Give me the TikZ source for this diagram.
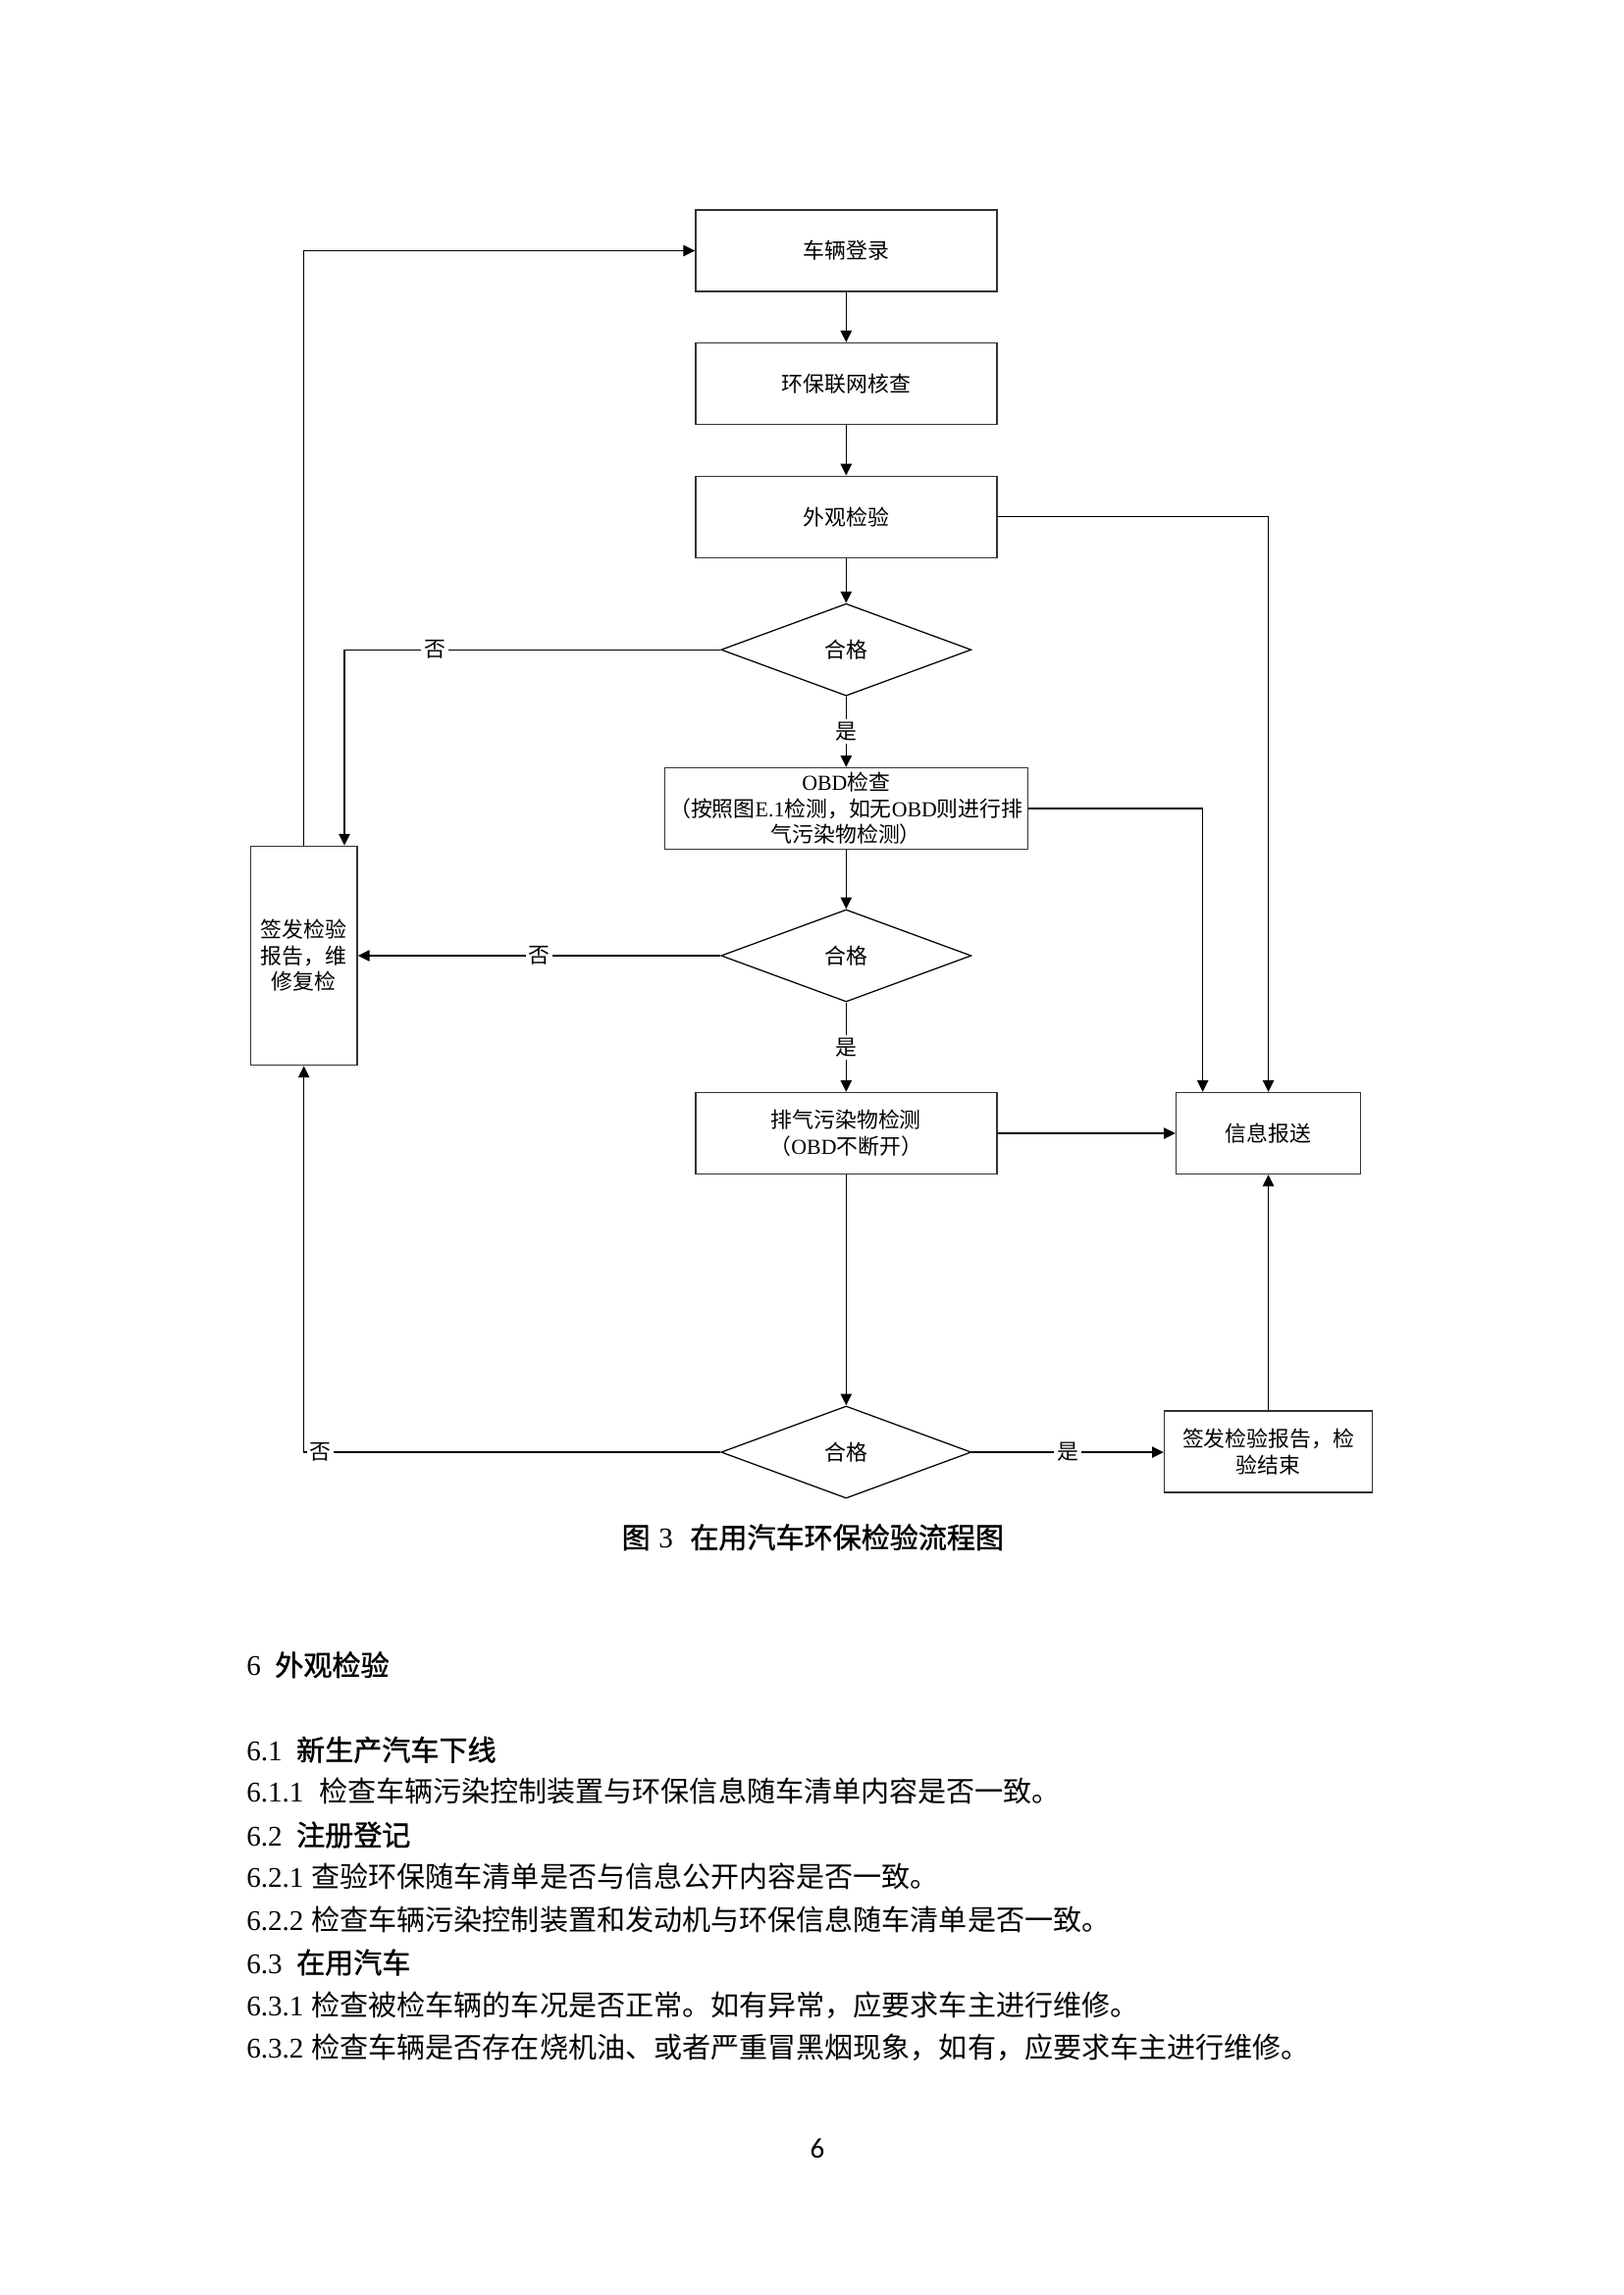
\documentclass[tikz,border=0pt]{standalone}
\usepackage{fontspec}
\setmainfont{Liberation Serif}
\newfontfamily\cjk{Noto Sans CJK SC}
\newfontfamily\cjkh{Noto Sans CJK SC}[BoldFont={Noto Sans CJK SC},BoldFeatures={FakeBold=1.3}]
\newfontfamily\pgnum{Carlito}
\usetikzlibrary{arrows.meta,shapes.geometric}
\newlength\px
\setlength\px{0.12697mm}
\newcommand\dfont{\fontsize{7.9pt}{9.6pt}\selectfont\cjk}
\newcommand\bfont{\fontsize{10.5pt}{12pt}\selectfont}
\begin{document}
\begin{tikzpicture}[x=0.12697mm,y=-0.12697mm,
  box/.style={draw=black!80, line width=0.5pt, minimum width=307\px, minimum height=83\px, inner sep=1pt, align=center, font=\dfont},
  dia/.style={draw=black, line width=0.45pt, diamond, minimum width=255\px, minimum height=94\px, inner sep=0pt, font=\dfont},
  conn/.style={line width=0.45pt, -{Triangle[length=1.5mm,width=1.45mm]}},
  lbl/.style={fill=white, inner sep=1pt, font=\dfont},
  body/.style={anchor=west, inner sep=0pt, font=\bfont}
]
\path[use as bounding box] (0,0) rectangle (1654,2339);

% main column
\node[box] (b1) at (862.3,255.5) {车辆登录};
\node[box] (b2) at (862.3,391) {环保联网核查};
\node[box] (b3) at (862.3,526.7) {外观检验};
\node[dia] (d1) at (862.3,662.2) {合格};
\node[box, minimum width=370\px] (obd) at (862.3,824) {{\rmfamily OBD}检查\\（按照图{\rmfamily E.1}检测，如无{\rmfamily OBD}则进行排\\气污染物检测）};
\node[dia] (d2) at (862.3,974) {合格};
\node[box] (pq) at (862.3,1155) {排气污染物检测\\（{\rmfamily OBD}不断开）};
\node[dia] (d3) at (862.3,1480) {合格};
\node[box, minimum width=188\px] (info) at (1292.5,1155) {信息报送};
\node[box, minimum width=212\px] (qf) at (1292.5,1479.4) {签发检验报告，检\\验结束};
\node[box, minimum width=108.7\px, minimum height=223.4\px] (rep) at (309.7,974) {签发检验\\报告，维\\修复检};

% connectors
\draw[conn] (b1) -- (b2);
\draw[conn] (b2) -- (b3);
\draw[conn] (b3) -- (d1);
\draw[conn] (d1) -- node[lbl]{是} (obd);
\draw[conn] (obd) -- (d2);
\draw[conn] (d2) -- node[lbl]{是} (pq);
\draw[conn] (pq) -- (d3);
\draw[conn] (d3.east) -- node[lbl]{是} (d3.east -| qf.west);
\draw[conn] (qf) -- (info);
\draw[conn] (pq) -- (info);
\draw[conn] (b3.east) -| (info.north);
\draw[conn] (obd.east) -| ([xshift=-66.8\px]info.north);
\draw[conn] (rep.north) |- (b1.west);
\draw[conn] (d1.west) -| node[lbl,pos=0.38]{否} ([xshift=41.3\px]rep.north);
\draw[conn] (d2.west) -- node[lbl]{否} (rep.east);
\draw[conn] (d3.west) -| node[lbl,pos=0.48]{否} (rep.south);

% caption
\node[anchor=west, inner sep=0pt, font=\bfont] (cap) at (633,1566.7) {{\cjkh\bfseries 图}\hspace{0.3em}3\hspace{0.6em}{\cjkh\bfseries 在用汽车环保检验流程图}};

% body text
\node[body] (t1) at (250.7,1696.7) {6\hspace{0.5em}{\cjkh\bfseries 外观检验}};
\node[body] (t2) at (250.7,1783.3) {6.1\hspace{0.5em}{\cjkh\bfseries 新生产汽车下线}};
\node[body] (t3) at (250.7,1825.7) {6.1.1\hspace{0.54em}{\cjk 检查车辆污染控制装置与环保信息随车清单内容是否一致。}};
\node[body] (t4) at (250.7,1870) {6.2\hspace{0.5em}{\cjkh\bfseries 注册登记}};
\node[body] (t5) at (250.7,1912.7) {6.2.1\hspace{0.28em}{\cjk 查验环保随车清单是否与信息公开内容是否一致。}};
\node[body] (t6) at (250.7,1956) {6.2.2\hspace{0.28em}{\cjk 检查车辆污染控制装置和发动机与环保信息随车清单是否一致。}};
\node[body] (t7) at (250.7,2000) {6.3\hspace{0.5em}{\cjkh\bfseries 在用汽车}};
\node[body] (t8) at (250.7,2043.3) {6.3.1\hspace{0.28em}{\cjk 检查被检车辆的车况是否正常。如有异常，应要求车主进行维修。}};
\node[body] (t9) at (250.7,2086.7) {6.3.2\hspace{0.28em}{\cjk 检查车辆是否存在烧机油、或者严重冒黑烟现象，如有，应要求车主进行维修。}};

% page number
\node[inner sep=0pt, font=\pgnum\fontsize{10.5pt}{12pt}\selectfont] (pg) at (833,2190) {6};
\end{tikzpicture}
\end{document}
